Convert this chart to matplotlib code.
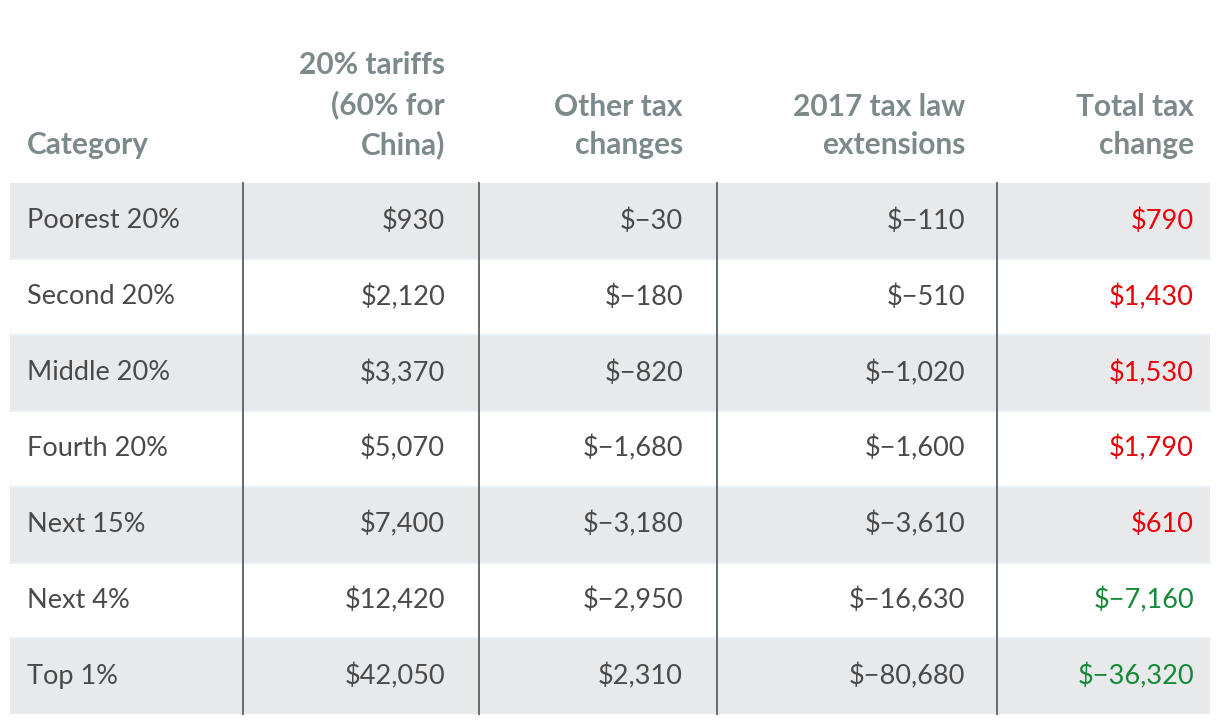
import matplotlib
matplotlib.use('Agg')
import matplotlib.pyplot as plt
from matplotlib.patches import Rectangle

plt.rcParams['font.family'] = ['Lato', 'DejaVu Sans']

headers = ['Category', '20% tariffs\n(60% for\nChina)', 'Other tax\nchanges',
           '2017 tax law\nextensions', 'Total tax\nchange']
categories = ['Poorest 20%', 'Second 20%', 'Middle 20%', 'Fourth 20%',
              'Next 15%', 'Next 4%', 'Top 1%']
tariffs = [930, 2120, 3370, 5070, 7400, 12420, 42050]
other_changes = [-30, -180, -820, -1680, -3180, -2950, 2310]
extensions = [-110, -510, -1020, -1600, -3610, -16630, -80680]
total_change = [790, 1430, 1530, 1790, 610, -7160, -36320]


def fmt(v):
    return '$' + f'{v:,}'.replace('-', '\u2212')


W, H = 1220, 724
fig = plt.figure(figsize=(W / 100, H / 100), dpi=100)
ax = fig.add_axes([0, 0, 1, 1])
ax.set_xlim(0, W)
ax.set_ylim(H, 0)
ax.axis('off')

left, right = 10, 1210
top, row_h = 183, 75.9
vlines = [243, 479, 717, 997]
text_x = [27, 445, 683, 965, 1194]
aligns = ['left', 'right', 'right', 'right', 'right']

body_color = '#4a4a4a'
head_color = '#7d8a8c'

# header
for x, ha, h in zip(text_x, aligns, headers):
    ax.text(x, 154, h, ha=ha, va='baseline', fontsize=21.5, fontweight='bold',
            color=head_color, linespacing=1.45, multialignment=ha)

columns = [tariffs, other_changes, extensions]
n = len(categories)
for i in range(n):
    y0 = top + i * row_h
    if i % 2 == 0:
        ax.add_patch(Rectangle((left, y0), right - left, row_h, color='#e8e9eb', lw=0))
    if i > 0:
        ax.plot([left, right], [y0, y0], color='#eaf2f8', lw=1.6)
    yc = y0 + row_h / 2
    ax.text(text_x[0], yc, categories[i], ha='left', va='center', fontsize=19.5, color=body_color)
    for j, col in enumerate(columns):
        ax.text(text_x[j + 1], yc, fmt(col[i]), ha='right', va='center',
                fontsize=19.5, color=body_color)
    tc = total_change[i]
    ax.text(text_x[4], yc, fmt(tc), ha='right', va='center', fontsize=19.5,
            color='#e8000b' if tc > 0 else '#138a36')

for x in vlines:
    ax.plot([x, x], [top, top + n * row_h], color='#5f6b6d', lw=1.4)

fig.savefig('out.png', dpi=100, facecolor='white')
